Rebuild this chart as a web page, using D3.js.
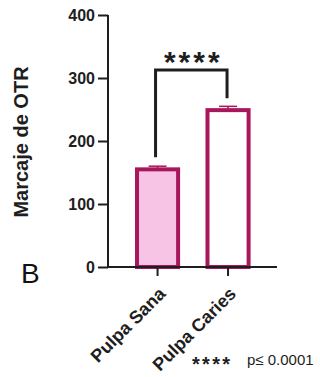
<!DOCTYPE html>
<html><head><meta charset="utf-8">
<script src="https://cdn.jsdelivr.net/npm/d3@7"></script>
<style>body{margin:0;background:#fff}svg{display:block}</style>
</head><body>
<script>
const categories = ["Pulpa Sana", "Pulpa Caries"];
const means = [155, 249];
const errors = [5, 6];
const fills = ["#f7c4e6", "#ffffff"];
const yTicks = [0, 100, 200, 300, 400];
const sigLabel = "****";
const pNote = "p\u2264 0.0001";

const W = 320, H = 377;
const svg = d3.select("body").append("svg").attr("width", W).attr("height", H)
  .style("font-family", "Arial, 'Liberation Sans', sans-serif");

const x0 = 108, x1 = 277, yTop = 15, yBot = 267;
const y = d3.scaleLinear().domain([0, 400]).range([yBot, yTop]);
const x = d3.scaleBand().domain(categories).range([135, 250.6]).paddingInner(0.36).paddingOuter(0);
const stroke = "#a8175c";
const ink = "#1e1e1e";

// Y axis
const ya = svg.append("g").attr("transform", `translate(${x0},0)`)
  .call(d3.axisLeft(y).tickValues(yTicks).tickSize(10).tickPadding(3));
ya.select(".domain").attr("stroke", ink).attr("stroke-width", 2).attr("d", `M0,${yTop}V${yBot}`);
ya.selectAll(".tick line").attr("stroke", ink).attr("stroke-width", 2);
ya.selectAll(".tick text").attr("font-size", 16).attr("font-weight", "bold").attr("fill", ink).attr("dy", "0.35em");

// Bars
const bw = x.bandwidth();
svg.selectAll("rect.bar").data(categories).enter().append("rect")
  .attr("class", "bar")
  .attr("x", d => x(d) + 2).attr("width", bw - 4)
  .attr("y", (d, i) => y(means[i])).attr("height", (d, i) => yBot - y(means[i]))
  .attr("fill", (d, i) => fills[i]).attr("stroke", stroke).attr("stroke-width", 4);

// Error bars
categories.forEach((c, i) => {
  const cx = x(c) + bw / 2;
  const ty = y(means[i] + errors[i]);
  svg.append("line").attr("x1", cx).attr("x2", cx).attr("y1", y(means[i])).attr("y2", ty)
    .attr("stroke", stroke).attr("stroke-width", 1.5);
  svg.append("line").attr("x1", cx - 9).attr("x2", cx + 9).attr("y1", ty).attr("y2", ty)
    .attr("stroke", stroke).attr("stroke-width", 1.5);
});

// X axis
const xa = svg.append("g").attr("transform", `translate(0,${yBot})`)
  .call(d3.axisBottom(x).tickSize(9).tickPadding(0));
xa.select(".domain").attr("stroke", ink).attr("stroke-width", 2).attr("d", `M${x0},0H${x1}`);
xa.selectAll(".tick line").attr("stroke", ink).attr("stroke-width", 2);
xa.selectAll(".tick text").attr("font-size", 18).attr("font-weight", "bold").attr("fill", ink)
  .attr("text-anchor", "end").attr("x", 0).attr("y", 0).attr("dy", 0)
  .attr("transform", "translate(9,28) rotate(-45)");

// Significance bracket
const c1 = x(categories[0]) + bw / 2 - 2, c2 = x(categories[1]) + bw / 2 - 1;
const by = 70;
svg.append("path")
  .attr("d", `M${c1},${y(means[0] + errors[0]) - 9}V${by}H${c2}V${y(means[1] + errors[1]) - 8}`)
  .attr("fill", "none").attr("stroke", ink).attr("stroke-width", 3);
svg.append("text").attr("x", (c1 + c2) / 2 + 2).attr("y", 72).attr("text-anchor", "middle")
  .attr("font-size", 30).attr("font-weight", "bold").attr("letter-spacing", 3).attr("fill", ink).text(sigLabel);

// Y label
svg.append("text").attr("transform", `translate(28,${(yTop + yBot) / 2 + 1}) rotate(-90)`)
  .attr("text-anchor", "middle").attr("font-size", 20).attr("font-weight", "bold").attr("fill", ink)
  .text("Marcaje de OTR");

// Panel letter
svg.append("text").attr("x", 21).attr("y", 283).attr("font-size", 28).attr("fill", "#111").text("B");

// Footnote
svg.append("text").attr("x", 192).attr("y", 371).attr("font-size", 20).attr("font-weight", "bold")
  .attr("letter-spacing", 2.3).attr("fill", ink).text(sigLabel);
svg.append("text").attr("x", 247).attr("y", 365).attr("font-size", 15).attr("fill", ink).text(pNote);
</script>
</body></html>
